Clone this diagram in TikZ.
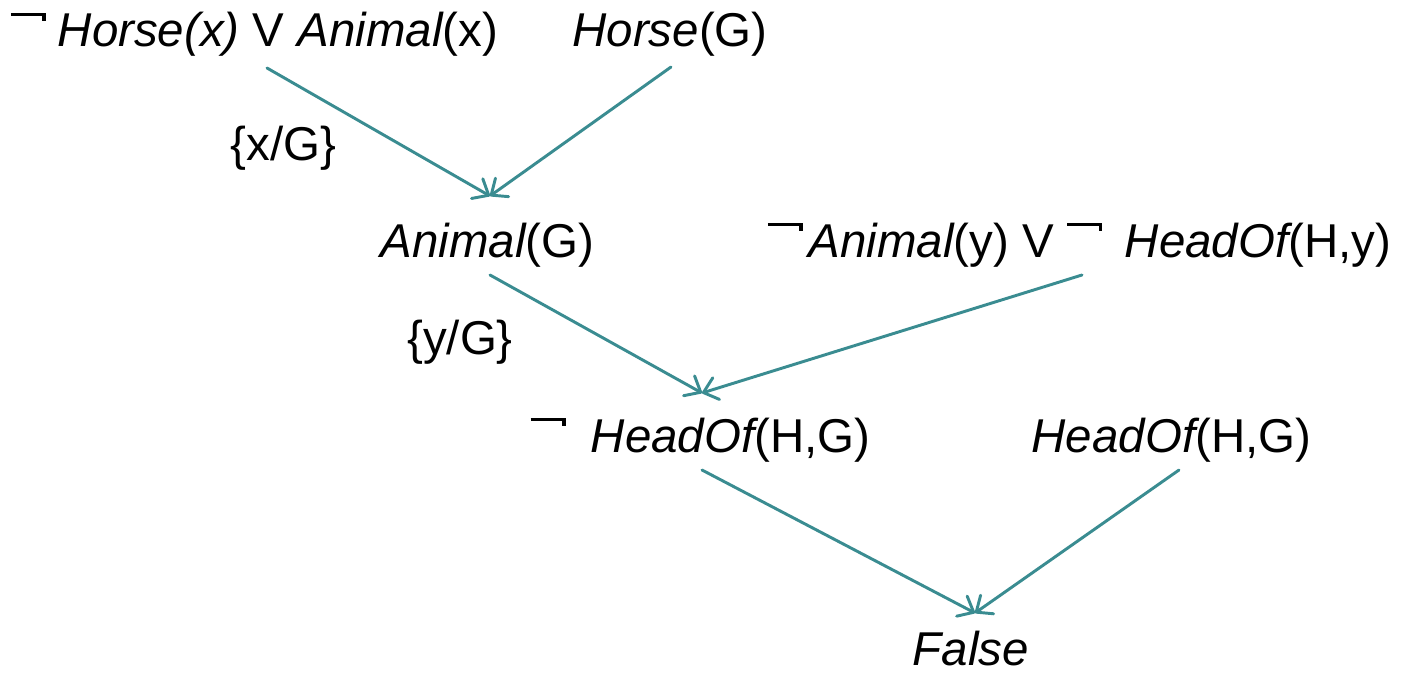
\documentclass[tikz,border=0pt]{standalone}
\usepackage{fontspec}
\setmainfont{Liberation Sans}
\usetikzlibrary{arrows.meta}
\definecolor{edgeteal}{RGB}{58,140,145}
\newcommand{\ngt}{\raisebox{0.65em}{\rule{0.74em}{0.075em}}\kern-0.075em\raisebox{0.55em}{\rule{0.075em}{0.175em}}}
\newcommand{\itx}[1]{{\itshape #1}}
\tikzset{
  lbl/.style={inner sep=0pt, anchor=base, font=\fontsize{35.6}{40}\selectfont},
  arr/.style={draw=edgeteal, line width=2.2pt, line cap=round, -{Straight Barb[length=10pt,width=17pt,line width=2.2pt,round]}},
}
\begin{document}
\begin{tikzpicture}[x=0.75pt,y=-0.75pt]
\useasboundingbox (0,0) rectangle (1402,674);
\node[lbl] (c1) at (254.5,47) {\ngt\kern0.25em\itx{Horse(x)} V \itx{Animal}(x)};
\node[lbl] (c2) at (670,47) {\itx{Horse}(G)};
\node[lbl] (s1) at (283.5,160) {\{x/G\}};
\node[lbl] (r1) at (487.5,257) {\itx{Animal}(G)};
\node[lbl] (c3) at (1079.5,257) {\ngt\kern0.12em\itx{Animal}(y) V \ngt\kern0.2em\ \itx{HeadOf}(H,y)};
\node[lbl] (s2) at (460,354) {\{y/G\}};
\node[lbl] (r2) at (700.5,452) {\ngt\kern0.25em\ \itx{HeadOf}(H,G)};
\node[lbl] (c4) at (1171.5,452) {\itx{HeadOf}(H,G)};
\node[lbl] (r3) at (971,665) {\itx{False}};
\coordinate (a1) at (267,68);
\coordinate (a2) at (671,67);
\coordinate (t1) at (490,196);
\coordinate (a3) at (490,275);
\coordinate (a4) at (1082,275);
\coordinate (t2) at (702,393);
\coordinate (a5) at (702,470);
\coordinate (a6) at (1179,470);
\coordinate (t3) at (975,613);
\draw[arr] (a1) -- (t1);
\draw[arr] (a2) -- (t1);
\draw[arr] (a3) -- (t2);
\draw[arr] (a4) -- (t2);
\draw[arr] (a5) -- (t3);
\draw[arr] (a6) -- (t3);
\end{tikzpicture}
\end{document}
